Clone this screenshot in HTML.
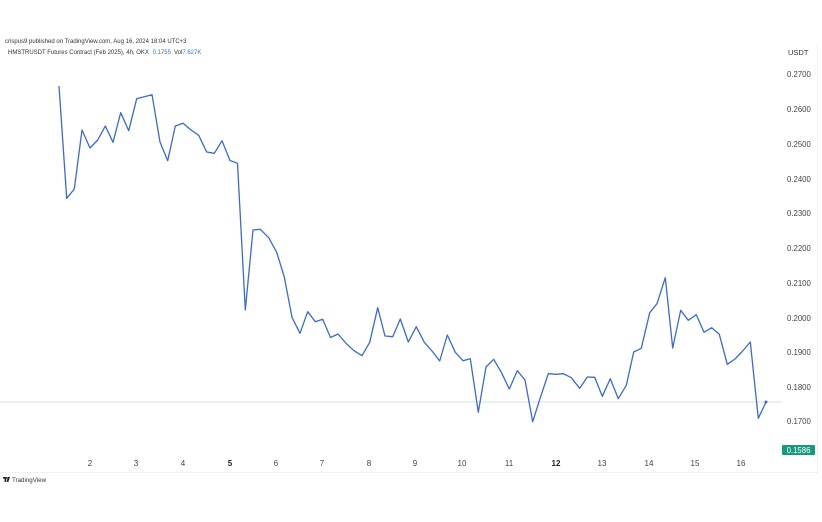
<!DOCTYPE html>
<html><head><meta charset="utf-8"><style>
html,body{margin:0;padding:0;background:#fff;}
svg{display:block;font-family:"Liberation Sans",sans-serif;}
</style></head><body>
<svg width="822" height="522" viewBox="0 0 822 522" xmlns="http://www.w3.org/2000/svg">
<rect width="822" height="522" fill="#fff"/>
<text x="5" y="43" font-size="6" fill="#333">crispus9 published on TradingView.com, Aug 16, 2024 18:04 UTC+3</text>
<text x="8" y="54" font-size="6" fill="#333">HMSTRUSDT Futures Contract (Feb 2025), 4h, OKX <tspan fill="#3b6fd6" dx="2">0.1755</tspan><tspan dx="3">Vol</tspan><tspan fill="#3b6fd6">7.627K</tspan></text>
<line x1="817.5" y1="45" x2="817.5" y2="473" stroke="#f0f1f3" stroke-width="1"/>
<line x1="0" y1="472.5" x2="818" y2="472.5" stroke="#f0f1f3" stroke-width="1"/>
<text x="788" y="55" font-size="7.5" fill="#333">USDT</text>
<g font-size="7.8" fill="#444">
<text x="787" y="77">0.2700</text>
<text x="787" y="112">0.2600</text>
<text x="787" y="147">0.2500</text>
<text x="787" y="182">0.2400</text>
<text x="787" y="216">0.2300</text>
<text x="787" y="251">0.2200</text>
<text x="787" y="286">0.2100</text>
<text x="787" y="321">0.2000</text>
<text x="787" y="355">0.1900</text>
<text x="787" y="390">0.1800</text>
<text x="787" y="424">0.1700</text>
</g>
<line x1="0" y1="402" x2="782" y2="402" stroke="#cfe0f4" stroke-width="1"/>
<rect x="782" y="445" width="33" height="10" rx="1" fill="#16997e"/>
<text x="798.5" y="453" font-size="7.8" fill="#fff" text-anchor="middle">0.1586</text>
<g font-size="8" fill="#444" text-anchor="middle">
<text x="90" y="466">2</text>
<text x="136" y="466">3</text>
<text x="183" y="466">4</text>
<text x="230" y="466" font-weight="bold" fill="#222">5</text>
<text x="276" y="466">6</text>
<text x="322" y="466">7</text>
<text x="369" y="466">8</text>
<text x="415" y="466">9</text>
<text x="462" y="466">10</text>
<text x="509" y="466">11</text>
<text x="556" y="466" font-weight="bold" fill="#222">12</text>
<text x="602" y="466">13</text>
<text x="649" y="466">14</text>
<text x="695" y="466">15</text>
<text x="741" y="466">16</text>
</g>
<polyline fill="none" stroke="#3a6ad4" stroke-width="1.3" stroke-linejoin="round" points="59,86 66.7,198.3 74.3,189 82,130 90,148 97.7,140 105.3,126 113,142.3 120.7,112.7 128.7,130.7 136.7,98.7 144.3,96.7 152,94.7 160,142 167.7,160.7 175.3,126 183,123.3 191,130 198.7,135.3 206.7,152 214.3,153.3 222,140.8 230,160.5 237.5,163.3 245.3,310 253,230 260.3,229.3 268.7,237.7 276.7,252.3 284.3,277 292,317.3 300,333.3 307.7,311.7 315.3,321.7 322.7,319.3 330.5,337.5 338,334 346,343.3 354,350.7 362,355.7 369.7,342.3 377.7,307.7 385,336 392.7,336.7 400.3,319 408.3,342 416.3,326.7 424.3,342.3 432,351 439.7,361 447.3,335 455.3,352.3 463,360.7 470.3,358.7 478.3,412.3 486,367 493.7,359.3 501.3,372.3 509.3,389 517.3,370.7 525,380 532.7,421.7 540.3,397.7 548.3,373.7 556,374.3 563.3,373.7 571.3,377.7 579.7,388.3 587.3,377 594.7,377.3 602.3,396.3 610.3,378.7 618.3,398.7 626.3,385.3 633.7,352 641.3,348.3 649.7,312.7 657,303.7 665.3,277.7 672.7,348 680.7,310.3 688.3,320.3 696.3,314.7 704,332.3 711.7,327.7 719.3,334.3 727.3,364.3 735,359 742.7,351 750.3,342 758.3,418.3 766,402"/>
<circle cx="766" cy="402" r="1.5" fill="#3a6ad4"/>
<g fill="#222">
<rect x="3" y="477" width="4" height="1.6"/>
<rect x="4.6" y="477" width="1.6" height="5"/>
<polygon points="7.5,477 10,477 8.3,482 6.8,482"/>
</g>
<text x="12" y="482" font-size="6.2" fill="#333">TradingView</text>
</svg>
</body></html>
